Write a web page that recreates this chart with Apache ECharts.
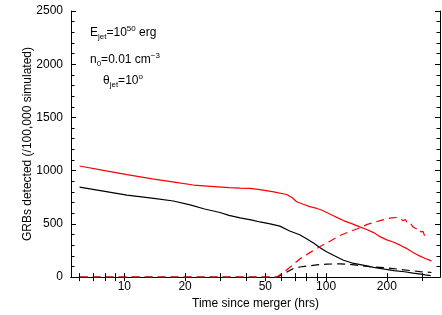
<!DOCTYPE html>
<html><head><meta charset="utf-8">
<script src="https://cdn.jsdelivr.net/npm/echarts@6/dist/echarts.min.js"></script>
<style>html,body{margin:0;padding:0;background:#fff}#c{width:442px;height:315px}</style>
</head><body><div id="c"></div>
<script>
const xTickLabels = [10, 20, 50, 100, 200];
const xTicks = [6, 7, 8, 9, 10, 20, 30, 40, 50, 60, 70, 80, 90, 100, 200, 300];

const blackSolidT = [6.0, 8, 10.3, 14, 17.5, 21.2, 25, 29.8, 33, 37.5, 43, 47, 52.8, 59, 66, 74, 80, 87, 93, 100, 110, 122, 135, 150, 172, 195, 217, 245, 270, 295, 310, 330];
const blackSolidY = [845, 805, 770, 740, 715, 678, 640, 607, 580, 556, 535, 518, 500, 479, 433, 398, 360, 318, 278, 240, 200, 158, 132, 115, 92, 75, 61, 50, 37, 28, 21, 14];

const redSolidT = [6.0, 8, 10.3, 14, 18, 22, 28, 33, 37.5, 42, 47, 55, 63.8, 68, 71.5, 77, 83, 90, 95, 105, 117, 122, 135, 148, 160, 172, 185, 200, 215, 233, 250, 265, 280, 292, 310, 325, 333];
const redSolidY = [1044, 1000, 962, 920, 890, 865, 850, 840, 836, 834, 821, 800, 776, 745, 708, 685, 662, 645, 630, 590, 547, 531, 500, 470, 445, 418, 380, 350, 330, 300, 270, 240, 215, 197, 175, 160, 150];

const redDashT = [6.0, 10, 20, 40, 57, 63, 68, 74, 83, 93, 105, 117, 130, 148, 160, 185, 200, 211, 224, 233, 240, 247, 255, 262, 270, 280, 287, 295, 302, 309];
const redDashY = [0, 0, 0, 0, 0, 60, 110, 170, 230, 285, 340, 390, 425, 465, 495, 530, 548, 556, 560, 555, 530, 540, 500, 505, 470, 455, 460, 425, 430, 380];

const blackDashT = [6.0, 10, 20, 40, 57, 63, 69, 74, 80, 90, 101, 117, 130, 148, 165, 185, 210, 233, 260, 292, 310, 333];
const blackDashY = [0, 0, 0, 0, 0, 40, 82, 95, 103, 115, 122, 125, 120, 108, 98, 92, 82, 73, 62, 52, 48, 43];

const FONT = '"Liberation Sans", Arial, Helvetica, sans-serif';
function pairs(t, y) { return t.map((v, i) => [v, y[i]]); }

const chart = echarts.init(document.getElementById('c'), null, {renderer: 'canvas'});

const xBase = {
  type: 'log', min: 5.44, max: 367, logBase: 10,
  axisLine: {show: true, lineStyle: {color: '#000', width: 1}},
  splitLine: {show: false}, minorTick: {show: false},
  axisTick: {show: true, inside: true, length: 4, customValues: xTicks, lineStyle: {color: '#000'}},
};
const yBase = {
  type: 'value', min: 0, max: 2500, interval: 500,
  axisLine: {show: true, lineStyle: {color: '#000', width: 1}},
  splitLine: {show: false},
  axisTick: {show: true, inside: true, length: 5, lineStyle: {color: '#000'}},
  minorTick: {show: true, splitNumber: 5, length: 3.5, lineStyle: {color: '#000'}},
};

const rich = {
  m: {fontSize: 12, fontFamily: FONT, fill: '#000', lineHeight: 16},
  s: {fontSize: 8, fontFamily: FONT, fill: '#000', lineHeight: 16, verticalAlign: 'bottom'},
  p: {fontSize: 8, fontFamily: FONT, fill: '#000', lineHeight: 16, verticalAlign: 'top'}
};

chart.setOption({
  animation: false,
  backgroundColor: '#fff',
  grid: {left: 71, right: 2, top: 11, bottom: 31},
  xAxis: [
    Object.assign({}, xBase, {
      position: 'bottom',
      name: 'Time since merger (hrs)', nameLocation: 'middle', nameGap: 18,
      nameTextStyle: {fontSize: 12, fontFamily: FONT, color: '#000'},
      axisLabel: {show: true, customValues: xTickLabels, fontSize: 12, fontFamily: FONT, color: '#000', margin: 4,
                  formatter: v => String(Math.round(v))}
    }),
    Object.assign({}, xBase, {position: 'top', axisLabel: {show: false}})
  ],
  yAxis: [
    Object.assign({}, yBase, {
      position: 'left',
      name: 'GRBs detected (/100,000 simulated)', nameLocation: 'middle', nameGap: 37,
      nameMoveOverlap: false,
      nameTextStyle: {fontSize: 12, fontFamily: FONT, color: '#000'},
      axisLabel: {show: true, fontSize: 12, fontFamily: FONT, color: '#000', margin: 8,
                  formatter: v => String(v)}
    }),
    Object.assign({}, yBase, {position: 'right', axisLabel: {show: false}})
  ],
  series: [
    {type: 'line', name: 'black solid', data: pairs(blackSolidT, blackSolidY), showSymbol: false,
     lineStyle: {color: '#000', width: 1.2}, z: 2},
    {type: 'line', name: 'black dashed', data: pairs(blackDashT, blackDashY), showSymbol: false,
     lineStyle: {color: '#000', width: 1.2, type: [8, 5]}, z: 2},
    {type: 'line', name: 'red solid', data: pairs(redSolidT, redSolidY), showSymbol: false,
     lineStyle: {color: '#ff0000', width: 1.2}, z: 3},
    {type: 'line', name: 'red dashed', data: pairs(redDashT, redDashY), showSymbol: false,
     lineStyle: {color: '#ff0000', width: 1.2, type: [8, 5]}, z: 3}
  ],
  graphic: [
    {type: 'text', left: 90, top: 25, style: {text: '{m|E}{s|jet}{m|=10}{p|50}{m| erg}', rich: rich}},
    {type: 'text', left: 90, top: 52, style: {text: '{m|n}{s|0}{m|=0.01 cm}{p|−3}', rich: rich}},
    {type: 'text', left: 103, top: 73, style: {text: '{m|θ}{s|jet}{m|=10}{p|o}', rich: rich}}
  ]
});
</script>
</body></html>
